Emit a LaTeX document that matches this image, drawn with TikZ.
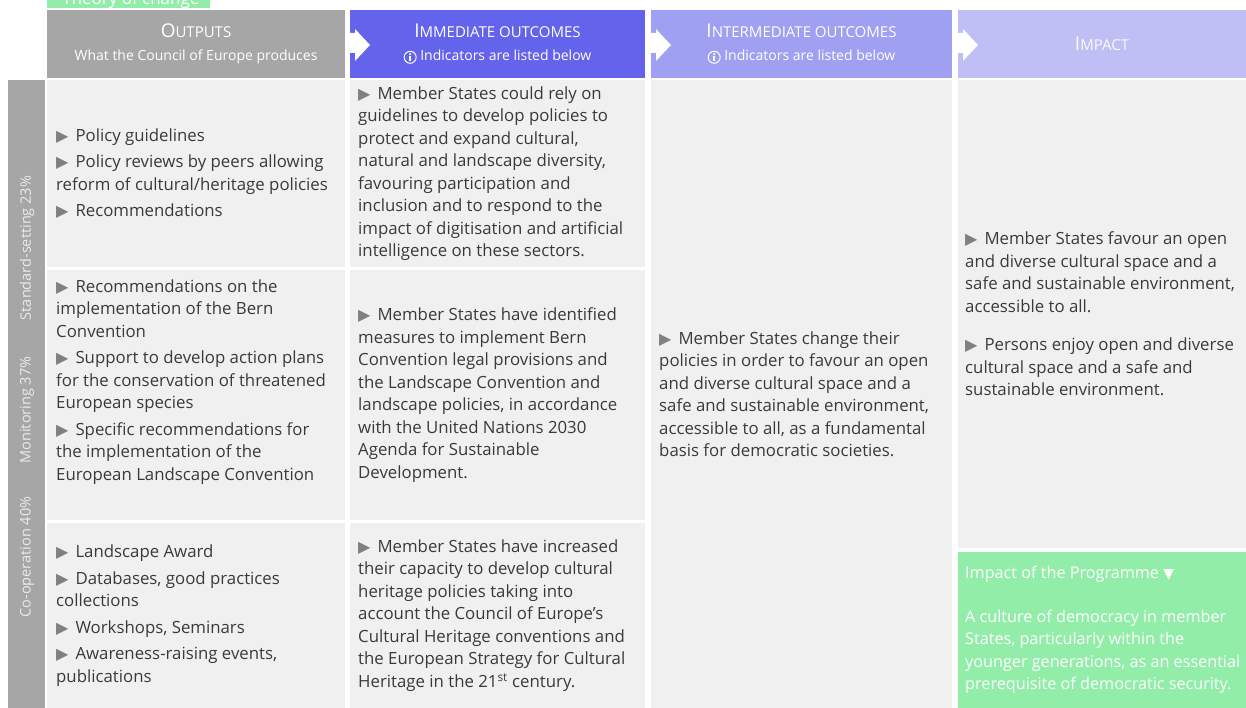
\documentclass[tikz,border=0pt]{standalone}
\usepackage{fontspec}
\setmainfont{Open Sans}
\newfontfamily\symfont{DejaVu Sans}
\usetikzlibrary{positioning}

\definecolor{hdgray}{HTML}{A6A6A6}
\definecolor{immblue}{HTML}{6363EC}
\definecolor{intblue}{HTML}{A0A0F2}
\definecolor{impblue}{HTML}{BFBFF6}
\definecolor{cellgray}{HTML}{F0F0F0}
\definecolor{progreen}{HTML}{92EDA9}
\definecolor{txtgray}{HTML}{3A3A3A}
\definecolor{bulgray}{HTML}{808080}

\newcommand{\tri}{{\symfont\color{bulgray}\fontsize{16}{16}\selectfont ▶}\hspace{7pt}}
\newcommand{\info}{\tikz[baseline=-3.5pt,x=1pt,y=1pt]{\draw[white,line width=1pt] (0,0) circle (6);
  \fill[white] (0,3.2) circle (1.2); \fill[white] (-1.1,1.3) rectangle (1.1,-3.9);}}
\newcommand{\hdcap}[2]{{\fontsize{19}{19}\selectfont #1}{\fontsize{15}{15}\selectfont #2}}

\begin{document}
\begin{tikzpicture}[x=1pt,y=-1pt,
  box/.style={anchor=north west,inner sep=0pt,outer sep=0pt},
  cell/.style={box,fill=cellgray},
  txt/.style={anchor=west,align=left,inner sep=0pt,text=txtgray,
    font=\fontsize{16.8}{22.5}\selectfont},
  head/.style={align=center,inner sep=0pt,text=white,
    font=\fontsize{14}{23}\selectfont},
  side/.style={rotate=90,inner sep=0pt,text=white!92!black,
    font=\fontsize{14.5}{14}\selectfont},
  arr/.style={fill=white}]
 \clip (0,0) rectangle (1246,708);
 % header row
 \node[box,fill=progreen,minimum width=163,minimum height=28] (toc) at (47,-20) {};
 \node[anchor=base west,inner sep=0pt,text=white,font=\fontsize{17}{17}\selectfont]
   (toctxt) at (62,5) {Theory of change};
 \node[box,fill=hdgray,minimum width=298,minimum height=68]  (hout) at (47,10)  {};
 \node[box,fill=immblue,minimum width=295,minimum height=68] (himm) at (350,10) {};
 \node[box,fill=intblue,minimum width=301,minimum height=68] (hint) at (651,10) {};
 \node[box,fill=impblue,minimum width=288,minimum height=68] (himp) at (958,10) {};
 \node[head] (houttxt) at (hout.center) {\hdcap{O}{UTPUTS}\\What the Council of Europe produces};
 \node[head] (himmtxt) at (himm.center) {\hdcap{I}{MMEDIATE OUTCOMES}\\\info\ Indicators are listed below};
 \node[head] (hinttxt) at (hint.center) {\hdcap{I}{NTERMEDIATE OUTCOMES}\\\info\ Indicators are listed below};
 \node[head,text=white!90!impblue] (himptxt) at (himp.center) {\hdcap{I}{MPACT}};
 \foreach \x in {350,651,958}
  \fill[arr] (\x,33) -- (\x+5,33) -- (\x+5,29) -- (\x+20,45) -- (\x+5,61) -- (\x+5,53) -- (\x,53) -- cycle;
 % left strip
 \node[box,fill=hdgray,minimum width=37,minimum height=628] (strip) at (8,80) {};
 \node[side] (lstd) at (27,248) {Standard-setting 23\%};
 \node[side] (lmon) at (27,410) {Monitoring 37\%};
 \node[side] (lcoo) at (27,557) {Co-operation 40\%};
 % cells
 \node[cell,minimum width=298,minimum height=187] (out1) at (47,80)  {};
 \node[cell,minimum width=298,minimum height=250] (out2) at (47,270) {};
 \node[cell,minimum width=298,minimum height=185] (out3) at (47,523) {};
 \node[cell,minimum width=295,minimum height=187] (imm1) at (350,80)  {};
 \node[cell,minimum width=295,minimum height=250] (imm2) at (350,270) {};
 \node[cell,minimum width=295,minimum height=185] (imm3) at (350,523) {};
 \node[cell,minimum width=301,minimum height=628] (int)  at (651,80)  {};
 \node[cell,minimum width=288,minimum height=468] (imp)  at (958,80)  {};
 \node[box,fill=progreen,minimum width=288,minimum height=156] (prog) at (958,552) {};
 % texts
 \node[txt] (out1txt) at ([xshift=9pt]out1.west) {\tri Policy guidelines\\[4pt]
   \tri Policy reviews by peers allowing\\reform of cultural/heritage policies\\[4pt]
   \tri Recommendations};
 \node[txt] (out2txt) at ([xshift=9pt,yshift=13pt]out2.west) {\tri Recommendations on the\\implementation of the Bern\\Convention\\[4pt]
   \tri Support to develop action plans\\for the conservation of threatened\\European species\\[4pt]
   \tri Specific recommendations for\\the implementation of the\\European Landscape Convention};
 \node[txt] (out3txt) at ([xshift=9pt]out3.west) {\tri Landscape Award\\[4pt]
   \tri Databases, good practices\\collections\\[4pt]
   \tri Workshops, Seminars\\[4pt]
   \tri Awareness-raising events,\\publications};
 \node[txt] (imm1txt) at ([xshift=8pt]imm1.west) {\tri Member States could rely on\\guidelines to develop policies to\\protect and expand cultural,\\natural and landscape diversity,\\favouring participation and\\inclusion and to respond to the\\impact of digitisation and artificial\\intelligence on these sectors.};
 \node[txt] (imm2txt) at ([xshift=8pt]imm2.west) {\tri Member States have identified\\measures to implement Bern\\Convention legal provisions and\\the Landscape Convention and\\landscape policies, in accordance\\with the United Nations 2030\\Agenda for Sustainable\\Development.};
 \node[txt] (imm3txt) at ([xshift=8pt]imm3.west) {\tri Member States have increased\\their capacity to develop cultural\\heritage policies taking into\\account the Council of Europe's\\Cultural Heritage conventions and\\the European Strategy for Cultural\\Heritage in the 21\textsuperscript{st} century.};
 \node[txt] (inttxt) at ([xshift=8pt]int.west) {\tri Member States change their\\policies in order to favour an open\\and diverse cultural space and a\\safe and sustainable environment,\\accessible to all, as a fundamental\\basis for democratic societies.};
 \node[txt] (imptxt) at ([xshift=7pt]imp.west) {\tri Member States favour an open\\and diverse cultural space and a\\safe and sustainable environment,\\accessible to all.\\[16pt]
   \tri Persons enjoy open and diverse\\cultural space and a safe and\\sustainable environment.};
 \node[txt,anchor=north west,text=white,font=\fontsize{16.2}{22.5}\selectfont] (progtxt)
   at ([xshift=7pt,yshift=-14pt]prog.north west) {Impact of the Programme {\symfont\fontsize{14}{14}\selectfont ▼}\\[21pt]
   A culture of democracy in member\\States, particularly within the\\younger generations, as an essential\\prerequisite of democratic security.};
\end{tikzpicture}
\end{document}
